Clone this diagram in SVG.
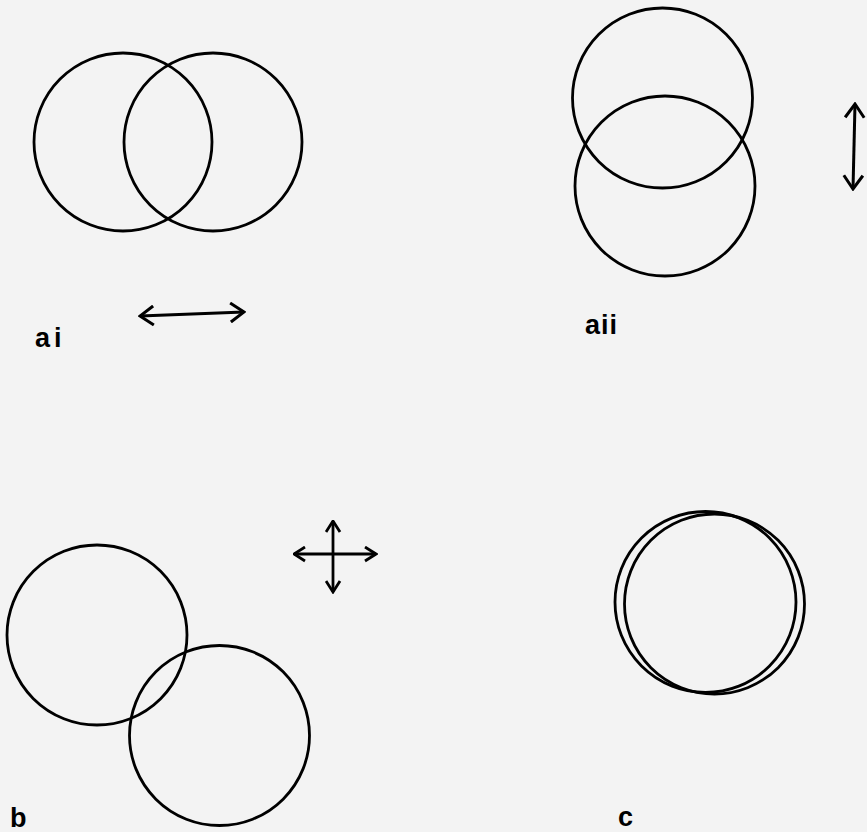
<svg xmlns="http://www.w3.org/2000/svg" width="867" height="832" viewBox="0 0 867 832">
<style>
.c{fill:none;stroke:#000;stroke-width:2.8}
.a{fill:none;stroke:#000;stroke-width:3;marker-start:url(#h);marker-end:url(#h)}
.s{fill:none;stroke:#000;stroke-width:2.8;marker-start:url(#hs);marker-end:url(#hs)}
.l{font-family:"Liberation Sans",Arial,sans-serif;font-weight:bold;font-size:27px;fill:#000}
</style>
<defs>
<marker id="h" viewBox="0 0 17 22" refX="15" refY="11" markerWidth="17" markerHeight="22" markerUnits="userSpaceOnUse" orient="auto-start-reverse">
<path d="M1.5,1.5 L15,11 L1.5,20.5" fill="none" stroke="#000" stroke-width="3"/>
</marker>
<marker id="hs" viewBox="0 0 14 17" refX="12.5" refY="8.5" markerWidth="14" markerHeight="17" markerUnits="userSpaceOnUse" orient="auto-start-reverse">
<path d="M1.5,1.5 L12.5,8.5 L1.5,15.5" fill="none" stroke="#000" stroke-width="2.8"/>
</marker>
</defs>
<rect width="867" height="832" fill="#f3f3f3"/>
<g id="ai">
<circle class="c" cx="123" cy="142" r="89"/>
<circle class="c" cx="213" cy="142" r="89"/>
</g>
<g id="aii">
<circle class="c" cx="662.5" cy="98" r="90"/>
<circle class="c" cx="665" cy="186" r="90"/>
</g>
<g id="b">
<circle class="c" cx="97" cy="635" r="90"/>
<circle class="c" cx="219.5" cy="735.5" r="90"/>
</g>
<g id="c">
<circle class="c" cx="705.5" cy="602" r="90.5"/>
<circle class="c" cx="714.5" cy="604" r="90"/>
</g>
<g id="connectors">
<line class="a" x1="140" y1="316" x2="244" y2="312"/>
<line class="a" x1="855" y1="104" x2="853" y2="189"/>
<line class="s" x1="294" y1="554" x2="376" y2="554"/>
<line class="s" x1="333" y1="521" x2="333" y2="592"/>
</g>
<g id="labels">
<text class="l" x="35" y="347" letter-spacing="4">ai</text>
<text class="l" x="585" y="334" letter-spacing="1">aii</text>
<text class="l" x="10" y="827">b</text>
<text class="l" x="618" y="826">c</text>
</g>
</svg>
